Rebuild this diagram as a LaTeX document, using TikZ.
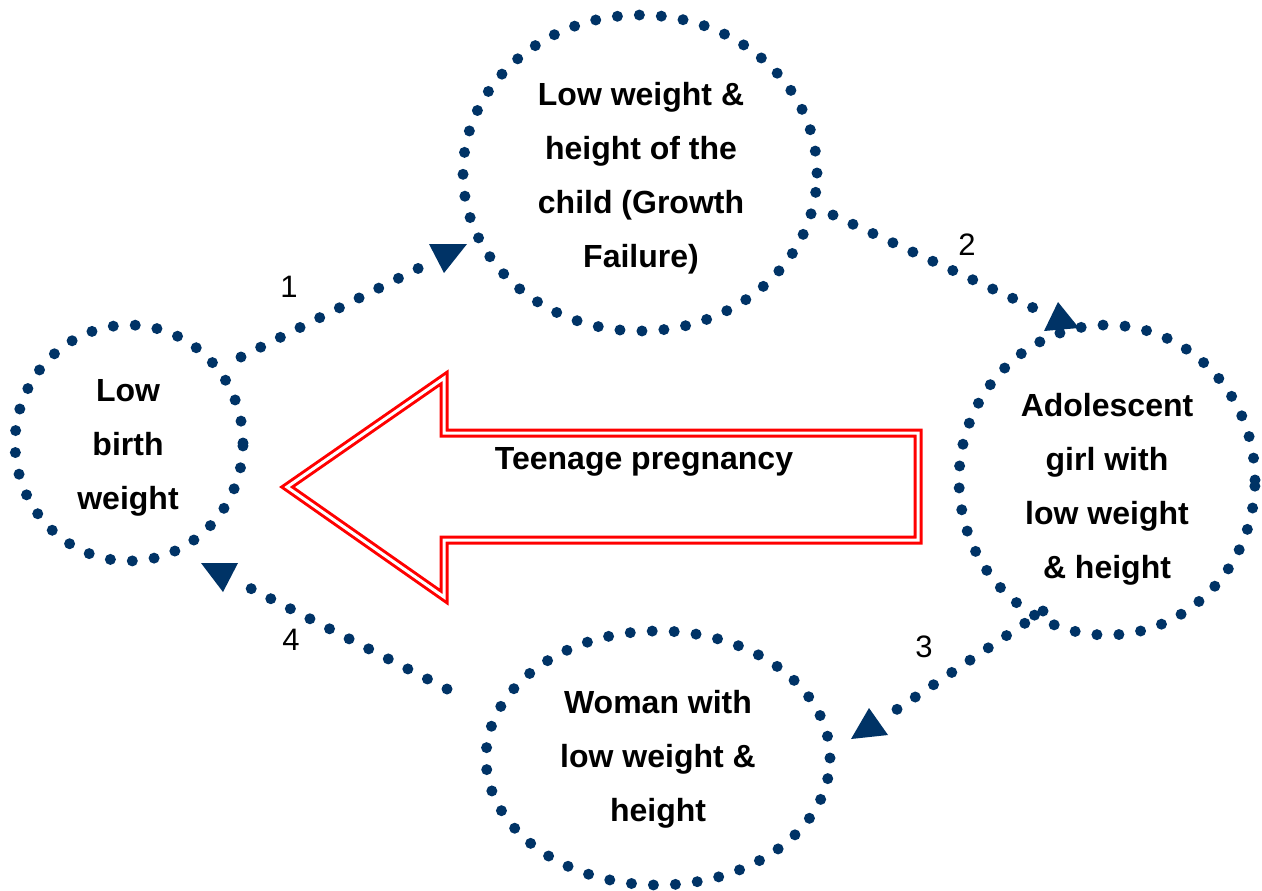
\documentclass[tikz,border=0pt]{standalone}
\usepackage{fontspec}
\setmainfont{Liberation Sans}
\usetikzlibrary{shapes.geometric}
\definecolor{navy}{RGB}{0,51,102}
\definecolor{bigred}{RGB}{255,0,0}
\tikzset{
  dotted ring/.style={ellipse, draw=navy, line width=5.5pt, dash pattern=on 0pt off 11pt, line cap=round, inner sep=0pt},
  dotline/.style={draw=navy, line width=5.5pt, dash pattern=on 0pt off 11pt, line cap=round},
  ringtext/.style={align=center, font=\fontsize{16pt}{27pt}\selectfont\bfseries, inner sep=0pt},
  numlabel/.style={font=\fontsize{15.5pt}{18pt}\selectfont, inner sep=0pt},
  tip/.style={fill=navy},
  hollow arrow/.style={draw=bigred, double=white, line width=1.5pt, double distance=1.5pt, line join=miter}
}
\begin{document}
\begin{tikzpicture}[x=0.5pt,y=-0.5pt]
\useasboundingbox (0,0) rectangle (1262,890);
% rings
\node[dotted ring, minimum width=177pt, minimum height=158pt] (T) at (640,173) {};
\node[dotted ring, minimum width=114pt, minimum height=118pt] (L) at (129,443) {};
\node[dotted ring, minimum width=148pt, minimum height=155pt] (R) at (1107,480) {};
\node[dotted ring, minimum width=172pt, minimum height=127pt] (B) at (658,758) {};
% texts
\node[ringtext] (Tt) at (641,178) {Low weight \&\\height of the\\child (Growth\\Failure)};
\node[ringtext] (Lt) at (128,448) {Low\\birth\\weight};
\node[ringtext] (Rt) at (1107,489) {Adolescent\\girl with\\low weight\\\& height};
\node[ringtext] (Bt) at (658,759) {Woman with\\low weight \&\\height};
% big hollow arrow
\path[hollow arrow] (287,487) -- (444,378) -- (444,433) -- (918,433) -- (918,540) -- (444,540) -- (444,597) -- cycle;
\node[ringtext] (tp) at (644,462) {Teenage pregnancy};
% connector end points
\coordinate (s1) at (241,357); \coordinate (e1) at (423,266);
\coordinate (s2) at (833,215); \coordinate (e2) at (1038,310);
\coordinate (s3) at (1043,611); \coordinate (e3) at (893,712);
\coordinate (s4) at (447,689); \coordinate (e4) at (246,586);
\draw[dotline] (s1) -- (e1);
\draw[dotline] (s2) -- (e2);
\draw[dotline] (s3) -- (e3);
\draw[dotline] (s4) -- (e4);
% arrow tips
\coordinate (t1) at (444,273);
\coordinate (t2) at (1058,302);
\coordinate (t3) at (869,708);
\coordinate (t4) at (223,592);
\fill[tip] (t1) -- ++(-15,-29) -- ++(38,0) -- cycle;
\fill[tip] (t2) -- ++(-14,29) -- ++(35,-3) -- cycle;
\fill[tip] (t3) -- ++(-18,31) -- ++(37,-4) -- cycle;
\fill[tip] (t4) -- ++(-22,-29) -- ++(37,0) -- cycle;
% labels
\node[numlabel] (n1) at (289,287) {1};
\node[numlabel] (n2) at (967,245) {2};
\node[numlabel] (n3) at (924,647) {3};
\node[numlabel] (n4) at (291,640) {4};
\end{tikzpicture}
\end{document}
